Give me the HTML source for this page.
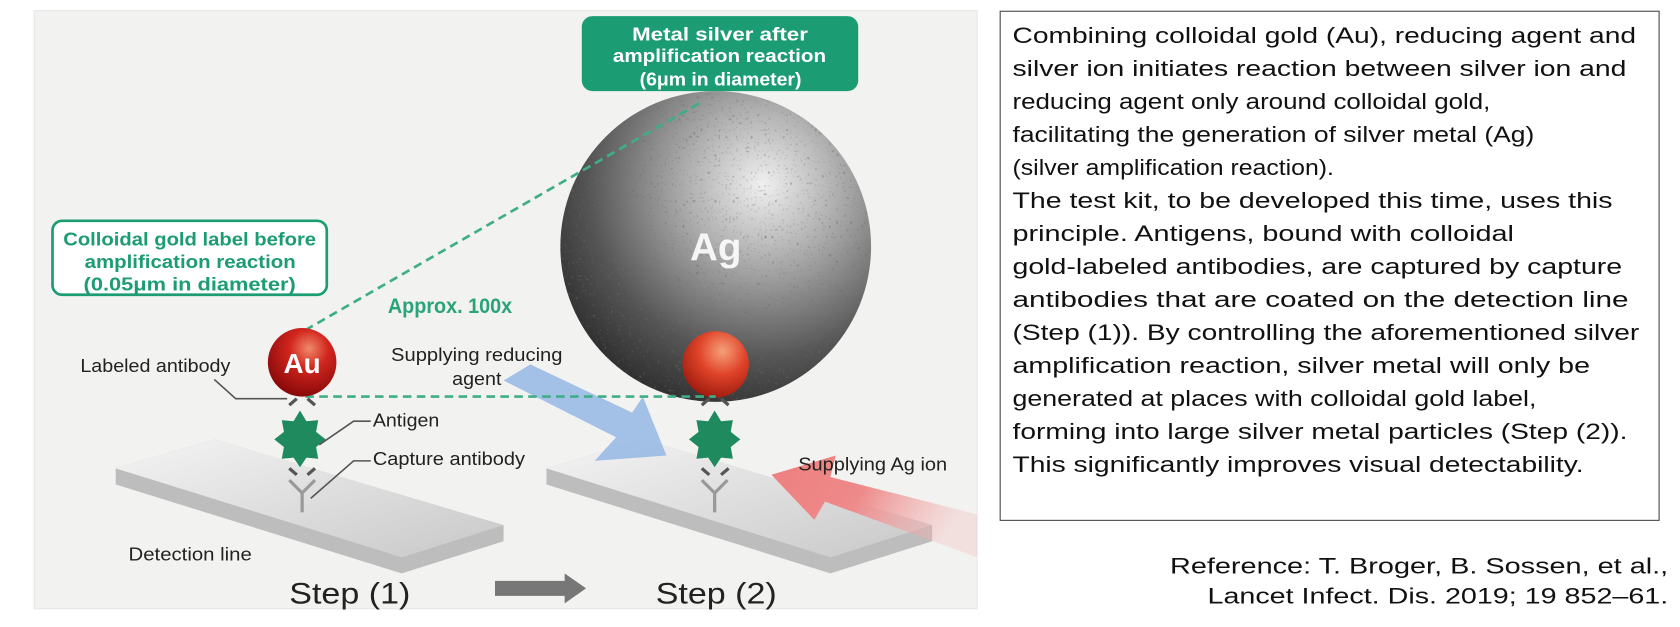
<!DOCTYPE html>
<html><head><meta charset="utf-8"><style>
html,body{margin:0;padding:0;background:#fff;}
svg{display:block;}
text{font-family:"Liberation Sans",sans-serif;}
</style></head><body>
<svg width="1680" height="627" viewBox="0 0 1568 585" preserveAspectRatio="none" xmlns="http://www.w3.org/2000/svg">
<defs>
<radialGradient id="ag" cx="0.65" cy="0.3" r="0.8">
<stop offset="0" stop-color="#f0f0f0"/><stop offset="0.3" stop-color="#b0b0b0"/><stop offset="0.7" stop-color="#555"/><stop offset="1" stop-color="#262626"/></radialGradient>
<radialGradient id="au" cx="0.6" cy="0.3" r="0.7">
<stop offset="0" stop-color="#f08a6a"/><stop offset="0.4" stop-color="#d2261e"/><stop offset="1" stop-color="#8a0a0a"/></radialGradient>
<radialGradient id="au2" cx="0.6" cy="0.3" r="0.7">
<stop offset="0" stop-color="#f6a07a"/><stop offset="0.5" stop-color="#e0452a"/><stop offset="1" stop-color="#a41e10"/></radialGradient>
<linearGradient id="plate" x1="0" y1="0" x2="1" y2="1">
<stop offset="0" stop-color="#f4f4f4"/><stop offset="1" stop-color="#c8c8c8"/></linearGradient>
<linearGradient id="red" x1="1" y1="0.3" x2="0" y2="0">
<stop offset="0" stop-color="#f3b5b5" stop-opacity="0.3"/><stop offset="0.5" stop-color="#ee8a8a"/><stop offset="1" stop-color="#ee7f7f"/></linearGradient>
<filter id="noise"><feTurbulence baseFrequency="0.3" numOctaves="2" seed="3"/><feColorMatrix type="matrix" values="0 0 0 0 0.15 0 0 0 0 0.15 0 0 0 0 0.15 0 0 0 2 -0.8"/><feComposite in2="SourceGraphic" operator="in"/></filter>
</defs>
<rect x="32" y="10" width="880" height="558" fill="#f2f2f1" stroke="#e6e6e6"/>
<polygon points="108,437 200,410 470,490 470,505 375,535 108,452" fill="#bdbdbd"/>
<polygon points="108,437 200,410 470,490 375,520" fill="url(#plate)"/>
<polygon points="510,437 600,410 870,490 870,505 775,535 510,452" fill="#bdbdbd"/>
<polygon points="510,437 600,410 870,490 775,520" fill="url(#plate)"/>
<polygon points="470,355 495,340 590,385 600,370 622,425 555,430 575,408" fill="#8fb4e3" opacity="0.8"/>
<polygon points="912,480 912,520 770,468 760,485 720,443 780,425 775,445" fill="url(#red)"/>
<circle cx="668" cy="230" r="145" fill="url(#ag)"/>
<circle cx="668" cy="230" r="145" fill="#000" filter="url(#noise)" opacity="0.7"/>
<text x="668" y="243" font-size="36" font-weight="bold" fill="#fff" text-anchor="middle" opacity="0.9">Ag</text>
<circle cx="668" cy="340" r="31" fill="url(#au2)"/>
<line x1="285" y1="308" x2="655" y2="95" stroke="#3fae88" stroke-width="2.5" stroke-dasharray="8,5"/>
<line x1="285" y1="370" x2="668" y2="370" stroke="#3fae88" stroke-width="2.5" stroke-dasharray="8,5"/>
<circle cx="282" cy="338" r="32" fill="url(#au)"/>
<text x="282" y="348" font-size="26" font-weight="bold" fill="#fff" text-anchor="middle">Au</text>
<g stroke="#555" stroke-width="3" fill="none">
<path d="M270,378 L277,372 M294,378 L287,372 M270,437 L277,443 M294,437 L287,443"/>
<path d="M655,378 L662,372 M680,378 L673,372 M655,437 L662,443 M680,437 L673,443"/>
<path d="M270,448 L282,460 L294,448 M282,460 L282,478" stroke="#999"/>
<path d="M655,448 L667,460 L679,448 M667,460 L667,478" stroke="#999"/>
</g>
<polygon points="280,383 286,393 297,392 295,403 304,410 295,417 297,428 286,427 280,436 274,427 263,428 265,417 256,410 265,403 263,392 274,393" fill="#1f8a5e"/>
<polygon points="667,383 673,393 684,392 682,403 691,410 682,417 684,428 673,427 667,436 661,427 650,428 652,417 643,410 652,403 650,392 661,393" fill="#1f8a5e"/>
<g stroke="#555" stroke-width="1.5" fill="none">
<polyline points="200,354 220,372 268,372"/>
<polyline points="346,393 330,393 298,415"/>
<polyline points="346,430 330,430 290,465"/>
</g>
<g font-size="17" fill="#222">
<text x="75" y="347" textLength="140" lengthAdjust="spacingAndGlyphs">Labeled antibody</text>
<text x="348" y="398" textLength="62" lengthAdjust="spacingAndGlyphs">Antigen</text>
<text x="348" y="434" textLength="142" lengthAdjust="spacingAndGlyphs">Capture antibody</text>
<text x="120" y="523" textLength="115" lengthAdjust="spacingAndGlyphs">Detection line</text>
<text x="365" y="337" textLength="160" lengthAdjust="spacingAndGlyphs">Supplying reducing</text>
<text x="422" y="359" textLength="46" lengthAdjust="spacingAndGlyphs">agent</text>
<text x="745" y="439" textLength="139" lengthAdjust="spacingAndGlyphs">Supplying Ag ion</text>
</g>
<text x="362" y="292" font-size="20" font-weight="bold" fill="#2aa37a" textLength="116" lengthAdjust="spacingAndGlyphs">Approx. 100x</text>
<rect x="543" y="15" width="258" height="70" rx="10" fill="#1c9c72"/>
<g font-size="17" font-weight="bold" fill="#fff">
<text x="590" y="38" textLength="164" lengthAdjust="spacingAndGlyphs">Metal silver after</text>
<text x="572" y="58" textLength="199" lengthAdjust="spacingAndGlyphs">amplification reaction</text>
<text x="597" y="80" textLength="151" lengthAdjust="spacingAndGlyphs">(6μm in diameter)</text>
</g>
<rect x="49" y="206" width="256" height="69" rx="9" fill="#fff" stroke="#1c9c72" stroke-width="2.5"/>
<g font-size="17" font-weight="bold" fill="#1c9c72">
<text x="59" y="229" textLength="236" lengthAdjust="spacingAndGlyphs">Colloidal gold label before</text>
<text x="79" y="250" textLength="197" lengthAdjust="spacingAndGlyphs">amplification reaction</text>
<text x="78" y="271" textLength="198" lengthAdjust="spacingAndGlyphs">(0.05μm in diameter)</text>
</g>
<text x="270" y="563" font-size="28" fill="#222" textLength="113" lengthAdjust="spacingAndGlyphs">Step (1)</text>
<text x="612" y="563" font-size="28" fill="#222" textLength="113" lengthAdjust="spacingAndGlyphs">Step (2)</text>
<polygon points="462,542 527,542 527,535 547,549 527,563 527,556 462,556" fill="#777"/>
<rect x="933.5" y="10.5" width="615" height="475" fill="#fff" stroke="#444" stroke-width="1"/>
<g font-size="21" fill="#111">
<text x="945" y="40" textLength="582" lengthAdjust="spacingAndGlyphs">Combining colloidal gold (Au), reducing agent and</text>
<text x="945" y="70.8" textLength="573" lengthAdjust="spacingAndGlyphs">silver ion initiates reaction between silver ion and</text>
<text x="945" y="101.6" textLength="446" lengthAdjust="spacingAndGlyphs">reducing agent only around colloidal gold,</text>
<text x="945" y="132.4" textLength="487" lengthAdjust="spacingAndGlyphs">facilitating the generation of silver metal (Ag)</text>
<text x="945" y="163.2" textLength="300" lengthAdjust="spacingAndGlyphs">(silver amplification reaction).</text>
<text x="945" y="194" textLength="560" lengthAdjust="spacingAndGlyphs">The test kit, to be developed this time, uses this</text>
<text x="945" y="224.8" textLength="468" lengthAdjust="spacingAndGlyphs">principle. Antigens, bound with colloidal</text>
<text x="945" y="255.6" textLength="569" lengthAdjust="spacingAndGlyphs">gold-labeled antibodies, are captured by capture</text>
<text x="945" y="286.4" textLength="575" lengthAdjust="spacingAndGlyphs">antibodies that are coated on the detection line</text>
<text x="945" y="317.2" textLength="585" lengthAdjust="spacingAndGlyphs">(Step (1)). By controlling the aforementioned silver</text>
<text x="945" y="348" textLength="539" lengthAdjust="spacingAndGlyphs">amplification reaction, silver metal will only be</text>
<text x="945" y="378.8" textLength="489" lengthAdjust="spacingAndGlyphs">generated at places with colloidal gold label,</text>
<text x="945" y="409.6" textLength="574" lengthAdjust="spacingAndGlyphs">forming into large silver metal particles (Step (2)).</text>
<text x="945" y="440.4" textLength="533" lengthAdjust="spacingAndGlyphs">This significantly improves visual detectability.</text>
</g>
<g font-size="21" fill="#111">
<text x="1092" y="535" textLength="465" lengthAdjust="spacingAndGlyphs">Reference: T. Broger, B. Sossen, et al.,</text>
<text x="1127" y="563" textLength="430" lengthAdjust="spacingAndGlyphs">Lancet Infect. Dis. 2019; 19 852–61.</text>
</g>
</svg>
</body></html>
